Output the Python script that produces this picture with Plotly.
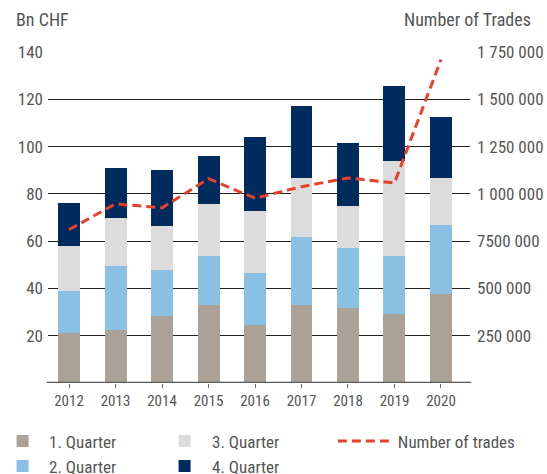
import plotly.graph_objects as go

years = [2012, 2013, 2014, 2015, 2016, 2017, 2018, 2019, 2020]
q1 = [21.0, 22.6, 28.5, 32.8, 24.7, 32.8, 31.9, 29.0, 37.8]
q2 = [18.0, 27.1, 19.5, 21.1, 22.0, 29.1, 25.0, 24.9, 29.2]
q3 = [19.0, 20.2, 18.2, 22.0, 26.2, 25.0, 18.1, 40.2, 19.9]
q4 = [18.3, 21.2, 24.0, 20.3, 31.3, 30.4, 26.5, 31.4, 25.5]
trades = [811000, 947000, 926000, 1080000, 977000, 1038000, 1084000, 1058000, 1710000]

left_ticks = [20, 40, 60, 80, 100, 120, 140]
right_ticks = [250000, 500000, 750000, 1000000, 1250000, 1500000, 1750000]
right_labels = ["250 000", "500 000", "7500 000", "1 000 000", "1 250 000", "1 500 000", "1 750 000"]

FONT = "Liberation Sans Narrow, Roboto Condensed, Roboto, Arial, sans-serif"
TXT = "#555555"

fig = go.Figure()
series = [("1. Quarter", q1, "#ABA197", "legend"), ("2. Quarter", q2, "#89C0E4", "legend"),
          ("3. Quarter", q3, "#DCDCDC", "legend2"), ("4. Quarter", q4, "#002B5E", "legend2")]
for name, vals, col, lg in series:
    fig.add_trace(go.Bar(x=years, y=vals, name=name, marker=dict(color=col, line_width=0),
                         width=0.473, legend=lg))
fig.add_trace(go.Scatter(x=years, y=trades, name="Number of trades", yaxis="y2", mode="lines",
                         line=dict(color="#E8412A", width=3, dash="9px,5px"), legend="legend3"))

leg_common = dict(orientation="v", yanchor="top", xanchor="left", y=-0.122,
                  font=dict(size=17, color=TXT), traceorder="normal", tracegroupgap=0,
                  bgcolor="rgba(0,0,0,0)")
fig.update_layout(
    barmode="stack",
    width=547, height=474,
    margin=dict(l=48, r=77, t=52, b=91, autoexpand=False),
    plot_bgcolor="white", paper_bgcolor="white",
    font=dict(family=FONT, color=TXT, size=16),
    xaxis=dict(range=[2011.548, 2020.624], tickvals=years, ticktext=[str(y) for y in years],
               showgrid=False, ticks="outside", ticklen=4, tickcolor="#666", tickwidth=1,
               showline=False, zeroline=False, tickfont=dict(size=15, color=TXT)),
    yaxis=dict(range=[0, 140], tickvals=left_ticks, showgrid=True, gridcolor="#222", gridwidth=1,
               zeroline=False, showline=False, tickfont=dict(size=17, color=TXT), ticks="",
               ticklabelstandoff=4),
    yaxis2=dict(range=[0, 1750000], overlaying="y", side="right", tickvals=right_ticks,
                ticktext=right_labels, showgrid=False, zeroline=False, showline=False,
                tickfont=dict(size=17, color=TXT), ticks="", ticklabelstandoff=6),
    legend=dict(x=-0.123, itemwidth=43, **leg_common),
    legend2=dict(x=0.2585, itemwidth=45, **leg_common),
    legend3=dict(x=0.675, itemwidth=55, **leg_common),
    showlegend=True,
)
# baseline axis line
fig.add_shape(type="line", xref="paper", yref="y", x0=-0.003, x1=1.003, y0=0, y1=0,
              line=dict(color="#595959", width=2.5))
fig.add_annotation(text="Bn CHF", xref="paper", yref="paper", x=-0.08, y=1.0, xanchor="left",
                   yanchor="bottom", yshift=20, showarrow=False, font=dict(size=18, color=TXT))
fig.add_annotation(text="Number of Trades", xref="paper", yref="paper", x=1.15, y=1.0,
                   xanchor="right", yshift=20, yanchor="bottom", showarrow=False,
                   font=dict(size=18, color=TXT))
fig.write_html("out.html")
